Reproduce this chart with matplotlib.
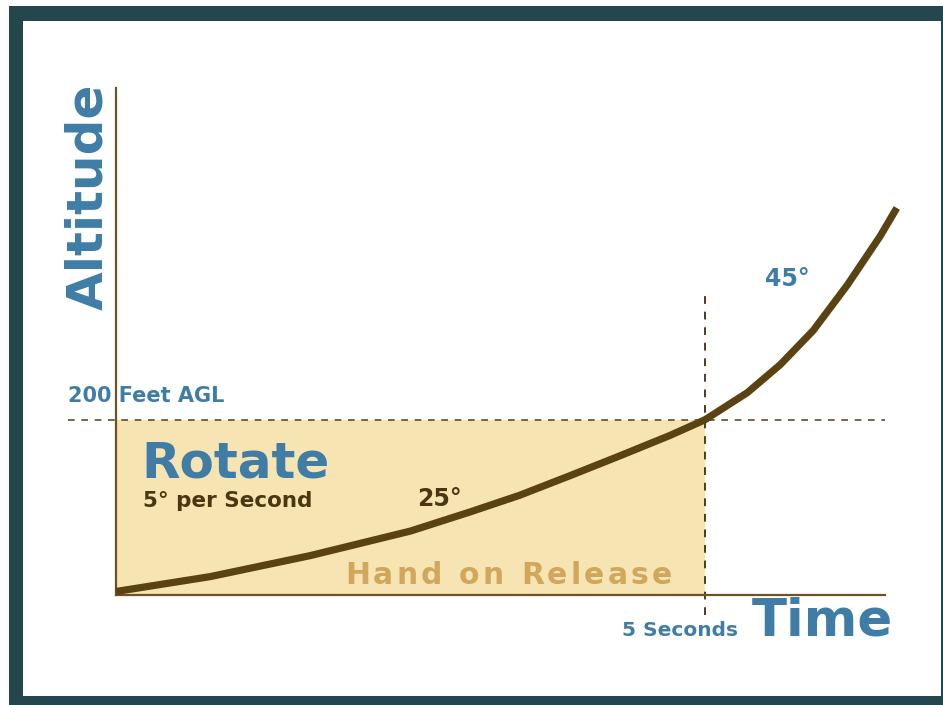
import matplotlib
matplotlib.use("Agg")
import matplotlib.pyplot as plt
from matplotlib.patches import Rectangle

# ---- data ----
time_s = [0.0, 0.80, 1.65, 2.50, 3.01, 3.43, 3.85, 4.28, 4.70, 5.0,
          5.36, 5.64, 5.92, 6.21, 6.49, 6.63]
altitude_ft = [4, 21, 45, 73, 95, 114, 136, 159, 182, 200,
               231, 263, 302, 354, 410, 442]
release_time = 5.0
release_alt = 200.0
x_max = 6.53
y_max = 579.0

BLUE = "#3f7da6"
BROWN = "#5a4212"
DARK_TXT = "#4a3712"
TAN = "#d2a75c"
FILL = "#f6e5b2"
FRAME = "#24464c"
FONT = "DejaVu Sans"

W, H = 943, 705
fig = plt.figure(figsize=(W / 100, H / 100), dpi=100)
fig.patch.set_facecolor("white")

# frame
fig.patches.append(Rectangle((9 / W, 0), (W - 9) / W, (H - 6) / H, transform=fig.transFigure,
                             facecolor=FRAME, edgecolor="none", zorder=-3))
fig.patches.append(Rectangle((23 / W, 9 / H), (941 - 23) / W, (696 - 21) / H, transform=fig.transFigure,
                             facecolor="white", edgecolor="none", zorder=-2))

ax = fig.add_axes([116 / W, (H - 595) / H, (885 - 116) / W, (595 - 88) / H])
ax.set_zorder(1)
ax.set_facecolor("none")
ax.set_xlim(0, x_max)
ax.set_ylim(0, y_max)
for s in ["top", "right"]:
    ax.spines[s].set_visible(False)
for s in ["left", "bottom"]:
    ax.spines[s].set_color("#6e5222")
    ax.spines[s].set_linewidth(1.6)
ax.set_xticks([])
ax.set_yticks([])

ax.add_patch(Rectangle((0, 0), release_time, release_alt, facecolor=FILL, edgecolor="none", zorder=1))

# dashed guides
ax.plot([-0.41, x_max], [release_alt, release_alt], ls=(0, (4, 4)), color="#5e4c30", lw=1.2,
        clip_on=False, zorder=2)
ax.plot([release_time, release_time], [-23, 343], ls=(0, (4, 4)), color="#4e3c1c", lw=1.4,
        clip_on=False, zorder=2)

ax.plot(time_s, altitude_ft, color=BROWN, lw=5.2, solid_capstyle="butt",
        solid_joinstyle="round", clip_on=False, zorder=4)

def T(x, y, s, **kw):
    return fig.text(x / W, 1 - y / H, s, fontfamily=FONT, fontweight="bold", zorder=5, **kw)

T(88, 197, "Altitude", rotation=90, ha="center", va="center", fontsize=36, color=BLUE)
T(68, 396, "200 Feet AGL", ha="left", va="center", fontsize=15, color=BLUE)
T(141, 464, "Rotate", ha="left", va="center", fontsize=36, color=BLUE)
T(143, 501, "5° per Second", ha="left", va="center", fontsize=15.5, color=DARK_TXT)
T(417, 499, "25°", ha="left", va="center", fontsize=17, color=DARK_TXT)
T(765, 279, "45°", ha="left", va="center", fontsize=17, color=BLUE)
T(622, 630, "5 Seconds", ha="left", va="center", fontsize=14.5, color=BLUE)
T(752, 622, "Time", ha="left", va="center", fontsize=37, color=BLUE)

# letter-spaced label
renderer = fig.canvas.get_renderer()

def text_width(s, size):
    t = fig.text(0, 0, s, fontfamily=FONT, fontweight="bold", fontsize=size)
    w = t.get_window_extent(renderer).width
    t.remove()
    return w

def spaced_text(x0, x1, y_base, s, size, color):
    sp = text_width("a a", size) - text_width("aa", size)
    widths = []
    for i in range(len(s) + 1):
        p = s[:i]
        stripped = p.rstrip(" ")
        w = text_width(stripped, size) if stripped else 0.0
        w += sp * (len(p) - len(stripped))
        widths.append(w)
    natural = widths[-1]
    track = (x1 - x0 - natural) / (len(s) - 1)
    for i, ch in enumerate(s):
        if ch == " ":
            continue
        T(x0 + widths[i] + i * track, y_base, ch, ha="left", va="baseline",
          fontsize=size, color=color)

spaced_text(345, 672, 584, "Hand on Release", 21.5, TAN)

fig.savefig("out.png", dpi=100)
